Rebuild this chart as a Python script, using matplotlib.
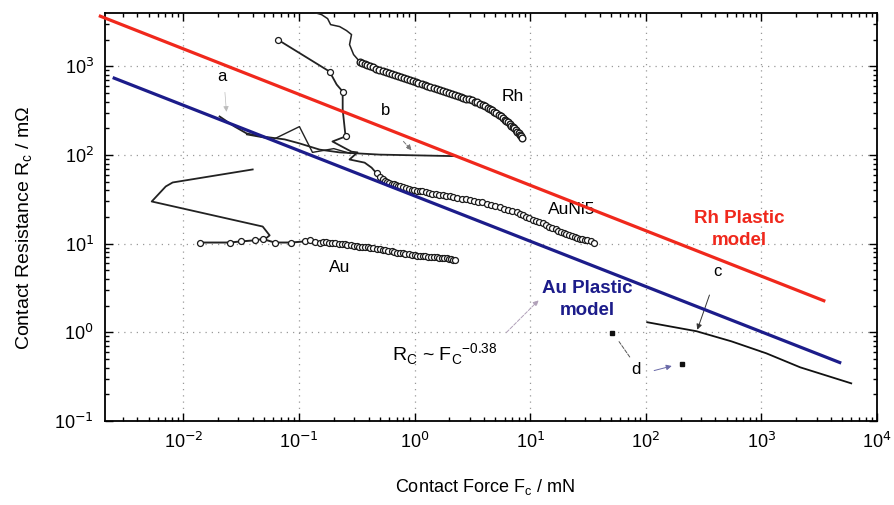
import matplotlib.pyplot as plt
from matplotlib.ticker import LogLocator, NullFormatter

plt.rcParams['font.family'] = ['Liberation Sans', 'DejaVu Sans']

# plastic contact models (straight lines on log-log)
rh_model_f = [0.00186, 3570]
rh_model_r = [3730, 2.24]
au_model_f = [0.00245, 4900]
au_model_r = [747, 0.45]

# Rh measurement: stepped start, then dense points
rh_step_f = [0.137, 0.157, 0.177, 0.188, 0.225, 0.258, 0.285, 0.274, 0.297, 0.335]
rh_step_r = [4036, 3828, 3451, 2953, 2806, 2529, 2280, 1759, 1357, 1132]
rh_f = [0.335, 0.352, 0.37, 0.39, 0.408, 0.433, 0.46, 0.495, 0.529, 0.565, 0.6, 0.635,
        0.671, 0.715, 0.76, 0.805, 0.853, 0.905, 0.96, 1.02, 1.08, 1.15, 1.22, 1.29,
        1.37, 1.46, 1.55, 1.65, 1.75, 1.86, 1.97, 2.09, 2.22, 2.36, 2.5, 2.65, 2.81,
        2.98, 3.15, 3.32, 3.5, 3.7, 3.9, 4.08, 4.28, 4.48, 4.7, 4.9, 5.11, 5.33, 5.55,
        5.78, 6.0, 6.22, 6.45, 6.67, 6.89, 7.1, 7.3, 7.55, 7.77, 8.0, 8.2, 8.4, 8.58]
rh_r = [1132, 1100, 1065, 1030, 1000, 970, 945, 920, 896, 872, 850, 828, 807, 786, 765,
        746, 728, 708, 690, 672, 656, 639, 622, 606, 591, 576, 561, 547, 533, 519, 506,
        493, 481, 468, 456, 444, 433, 423, 412, 401, 391, 378, 366, 355, 343, 330, 318,
        306, 294, 283, 272, 261, 251, 242, 233, 224, 215, 207, 199, 191, 184, 177, 170,
        163, 157]

# curve a
a_f = [0.0206, 0.0278, 0.0353, 0.0476, 0.0752, 0.1014, 0.151, 0.225, 0.499, 2.31]
a_r = [272, 209, 175, 162, 150, 135, 115, 107, 101, 97]
a2_f = [0.0353, 0.06, 0.101, 0.131, 0.2, 0.28]
a2_r = [170, 150, 209, 107, 118, 104]

# curve b, running into the AuNi5 points
b_f = [0.0655, 0.184, 0.212, 0.239, 0.239, 0.253, 0.195, 0.234, 0.285, 0.321, 0.274,
       0.37, 0.425, 0.47]
b_r = [2001, 873, 623, 519, 326, 162, 142, 125, 109, 107, 89, 82, 72, 62]
b_mark_f = [0.0655, 0.184, 0.239, 0.253]
b_mark_r = [2001, 873, 519, 162]

auni5_f = [0.47, 0.5, 0.529, 0.555, 0.58, 0.605, 0.633, 0.66, 0.69, 0.715, 0.742, 0.79,
           0.84, 0.89, 0.942, 0.995, 1.05, 1.11, 1.17, 1.25, 1.33, 1.42, 1.52, 1.63,
           1.75, 1.88, 2.01, 2.17, 2.35, 2.55, 2.76, 3.0, 3.25, 3.55, 3.87, 4.2, 4.6,
           5.0, 5.43, 5.9, 6.4, 7.0, 7.62, 8.15, 8.7, 9.25, 9.86, 10.5, 11.2, 12.0, 12.8,
           13.7, 14.6, 15.6, 16.6, 17.5, 18.5, 19.5, 20.6, 21.8, 23.0, 24.3, 25.6, 27.0,
           28.3, 29.8, 31.3, 33.5, 36.0]
auni5_r = [62, 57, 53, 51, 50, 48.8, 47.7, 46.7, 45.8, 45, 44.2, 43.3, 42.4, 41.6, 40.8,
           40.2, 39.7, 39.2, 38.8, 38, 37.3, 36.6, 35.9, 35.4, 35.0, 34.5, 34.1, 33.4,
           32.8, 32.1, 31.5, 30.9, 30.3, 29.7, 29.2, 28.2, 27.3, 26.4, 25.6, 24.8, 24.0,
           23.2, 22.5, 21.6, 20.8, 20.0, 19.3, 18.6, 18.0, 17.4, 16.9, 16.2, 15.6, 15.0,
           14.5, 14.0, 13.6, 13.1, 12.7, 12.4, 12.1, 11.8, 11.5, 11.3, 11.2, 11.0, 10.9,
           10.6, 10.3]

# Au measurement
au_zig_f = [0.0398, 0.00809, 0.00705, 0.00533, 0.0486, 0.0558, 0.0506]
au_zig_r = [68.7, 49, 44.2, 29.9, 15.6, 12.4, 11.2]
au_flat_f = [0.01387, 0.0252, 0.0314, 0.0414, 0.0486, 0.0617, 0.085, 0.112]
au_flat_r = [10.3, 10.3, 10.6, 10.9, 11.3, 10.3, 10.3, 10.6]
au_f = [0.124, 0.137, 0.151, 0.161, 0.172, 0.183, 0.195, 0.207, 0.22, 0.234, 0.248,
        0.263, 0.28, 0.297, 0.315, 0.332, 0.35, 0.37, 0.392, 0.415, 0.44, 0.47, 0.499,
        0.53, 0.56, 0.595, 0.633, 0.67, 0.71, 0.75, 0.787, 0.835, 0.89, 0.945, 1.0,
        1.06, 1.12, 1.18, 1.24, 1.32, 1.4, 1.47, 1.55, 1.63, 1.72, 1.8, 1.89, 1.97,
        2.05, 2.13, 2.22]
au_r = [10.9, 10.5, 10.3, 10.4, 10.4, 10.3, 10.3, 10.1, 10.0, 9.9, 9.81, 9.7, 9.55, 9.45,
        9.31, 9.25, 9.2, 9.15, 9.08, 8.95, 8.85, 8.72, 8.61, 8.5, 8.4, 8.3, 8.18, 8.05,
        7.95, 7.85, 7.77, 7.65, 7.55, 7.45, 7.37, 7.3, 7.25, 7.2, 7.18, 7.15, 7.1, 7.05,
        7.0, 6.95, 6.9, 6.85, 6.82, 6.72, 6.65, 6.55, 6.48]

# curve c (power-law fit region) and points d
c_f = [103, 160, 274, 550, 1103, 2168, 5984]
c_r = [1.30, 1.17, 1.03, 0.792, 0.580, 0.403, 0.266]
d_f = [51.5, 207]
d_r = [0.975, 0.44]

x_ticks = [1e-2, 1e-1, 1e0, 1e1, 1e2, 1e3, 1e4]
x_ticklabels = ['10$^{-2}$', '10$^{-1}$', '10$^{0}$', '10$^{1}$', '10$^{2}$', '10$^{3}$', '10$^{4}$']
y_ticks = [1e-1, 1e0, 1e1, 1e2, 1e3]
y_ticklabels = ['10$^{-1}$', '10$^{0}$', '10$^{1}$', '10$^{2}$', '10$^{3}$']

fig = plt.figure(figsize=(8.94, 5.05), dpi=100)
ax = fig.add_axes([0.1174, 0.1663, 0.8636, 0.8077])
ax.set_xscale('log')
ax.set_yscale('log')
ax.set_xlim(0.0021, 1e4)
ax.set_ylim(0.1, 3980)

ax.plot(rh_model_f, rh_model_r, color='#f0281c', lw=2.3, solid_capstyle='butt', clip_on=False, zorder=4)
ax.plot(au_model_f, au_model_r, color='#1c1c8a', lw=2.3, solid_capstyle='butt', zorder=4)

mk = dict(marker='o', ms=4.3, mfc='white', mec='#1a1a1a', mew=0.9)
ax.plot(rh_step_f, rh_step_r, color='#222222', lw=1.1, zorder=3)
ax.plot(rh_f, rh_r, color='#1a1a1a', lw=1.4, zorder=3, **dict(mk, ms=4.8, mew=1.0))
ax.plot(a_f, a_r, color='#222222', lw=1.3, zorder=3)
ax.plot(a2_f, a2_r, color='#222222', lw=1.0, zorder=3)
ax.plot(b_f, b_r, color='#222222', lw=1.3, zorder=3)
ax.plot(b_mark_f, b_mark_r, ls='none', zorder=3, **mk)
ax.plot(auni5_f, auni5_r, color='#222222', lw=1.0, zorder=3, **mk)
ax.plot(au_zig_f, au_zig_r, color='#222222', lw=1.3, zorder=3)
ax.plot(au_flat_f, au_flat_r, color='#222222', lw=1.4, zorder=3, **mk)
ax.plot(au_f, au_r, color='#222222', lw=1.0, zorder=3, **mk)
ax.plot(c_f, c_r, color='#111111', lw=1.3, zorder=3)
ax.plot(d_f, d_r, ls='none', marker='s', ms=3, color='#111111', zorder=3)

# axes styling
ax.grid(True, which='major', ls=(0, (1, 4)), color='#999999', lw=0.9)
ax.set_xticks(x_ticks, x_ticklabels)
ax.set_yticks(y_ticks, y_ticklabels)
ax.xaxis.set_minor_locator(LogLocator(base=10, subs=range(2, 10), numticks=20))
ax.yaxis.set_minor_locator(LogLocator(base=10, subs=range(2, 10), numticks=20))
ax.xaxis.set_minor_formatter(NullFormatter())
ax.yaxis.set_minor_formatter(NullFormatter())
ax.tick_params(which='both', direction='in', top=True, right=True, width=1.0, labelsize=13)
ax.tick_params(which='major', length=6, pad=8)
ax.tick_params(which='minor', length=3)
for s in ax.spines.values():
    s.set_linewidth(1.3)

ax.set_xlabel('Contact Force F$_\\mathregular{c}$ / mN', fontsize=13)
ax.set_ylabel('Contact Resistance R$_\\mathregular{c}$ / m\u03a9', fontsize=14)
ax.xaxis.set_label_coords(0.492, -0.137)
ax.yaxis.set_label_coords(-0.091, 0.473)

# labels
ax.text(0.0215, 766, 'a', fontsize=12, ha='center', va='center')
ax.text(0.561, 317, 'b', fontsize=12, ha='center', va='center')
ax.text(7.03, 456, 'Rh', fontsize=12.5, ha='center', va='center')
ax.text(22.7, 24.3, 'AuNi5', fontsize=12.5, ha='center', va='center')
ax.text(0.225, 5.4, 'Au', fontsize=12.5, ha='center', va='center')
ax.text(416, 4.87, 'c', fontsize=12, ha='center', va='center')
ax.text(83, 0.383, 'd', fontsize=12, ha='center', va='center')
ax.text(644, 14.5, 'Rh Plastic\nmodel', fontsize=13.5, fontweight='bold', color='#f0281c',
        ha='center', va='center', linespacing=1.35)
ax.text(31.3, 2.35, 'Au Plastic\nmodel', fontsize=13.5, fontweight='bold', color='#1c1c8a',
        ha='center', va='center', linespacing=1.35)
ax.text(1.82, 0.565, 'R$_\\mathregular{C}$ ~ F$_\\mathregular{C}$$^\\mathregular{-0.38}$',
        fontsize=14, ha='center', va='center')

arr = dict(arrowstyle='-|>', color='#333333', lw=0.7, mutation_scale=8)
ax.annotate('', xy=(0.0237, 286), xytext=(0.0228, 547), arrowprops=dict(arr, color='#bbbbbb', lw=0.5))
ax.annotate('', xy=(0.98, 107), xytext=(0.772, 150), arrowprops=dict(arr, ls='--', color='#777777'))
ax.annotate('', xy=(274, 1.0), xytext=(362, 2.82), arrowprops=arr)
ax.annotate('', xy=(56.9, 0.834), xytext=(75, 0.497), arrowprops=dict(arrowstyle='-', ls='--', color='#555555', lw=0.7))
ax.annotate('', xy=(177, 0.425), xytext=(112, 0.364), arrowprops=dict(arr, color='#6a6aa8'))
ax.annotate('', xy=(12.3, 2.42), xytext=(6.0, 0.949), arrowprops=dict(arr, ls='--', color='#b0a0b8'))

fig.savefig('out.png', dpi=100)
